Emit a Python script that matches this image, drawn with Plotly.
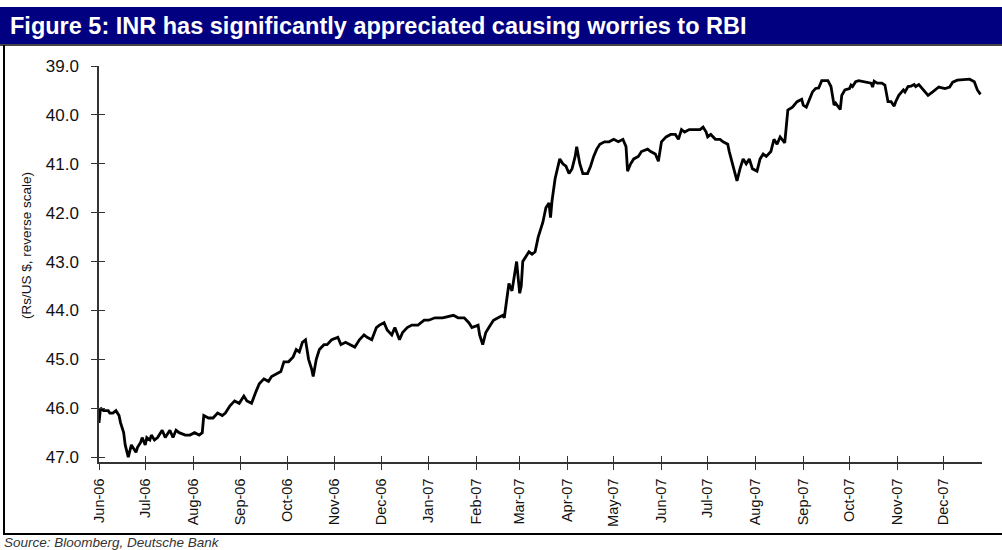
import plotly.graph_objects as go

# ---- data ----
dates = [
    "2006-06-01", "2006-06-02", "2006-06-04", "2006-06-07", "2006-06-08", "2006-06-10", "2006-06-12",
    "2006-06-14", "2006-06-15", "2006-06-17", "2006-06-18", "2006-06-19", "2006-06-20", "2006-06-22",
    "2006-06-23", "2006-06-25", "2006-06-26", "2006-06-28", "2006-06-29",
    "2006-07-01", "2006-07-02", "2006-07-04", "2006-07-05", "2006-07-07", "2006-07-09", "2006-07-11",
    "2006-07-12", "2006-07-14", "2006-07-17", "2006-07-19", "2006-07-21", "2006-07-23", "2006-07-27",
    "2006-07-30",
    "2006-08-02", "2006-08-05", "2006-08-07", "2006-08-08", "2006-08-11", "2006-08-14", "2006-08-17",
    "2006-08-20", "2006-08-22", "2006-08-25", "2006-08-28", "2006-08-31",
    "2006-09-03", "2006-09-05", "2006-09-08", "2006-09-11", "2006-09-13", "2006-09-16", "2006-09-19",
    "2006-09-21", "2006-09-24", "2006-09-27", "2006-09-29",
    "2006-10-02", "2006-10-05", "2006-10-07", "2006-10-09", "2006-10-11", "2006-10-13", "2006-10-15",
    "2006-10-17", "2006-10-18", "2006-10-20", "2006-10-22", "2006-10-25", "2006-10-27", "2006-10-30",
    "2006-11-03", "2006-11-05", "2006-11-08", "2006-11-11", "2006-11-14", "2006-11-17", "2006-11-20",
    "2006-11-22", "2006-11-25", "2006-11-28", "2006-11-30",
    "2006-12-03", "2006-12-05", "2006-12-08", "2006-12-10", "2006-12-13", "2006-12-15", "2006-12-18",
    "2006-12-21", "2006-12-25", "2006-12-29",
    "2007-01-01", "2007-01-05", "2007-01-10", "2007-01-17", "2007-01-20", "2007-01-24", "2007-01-27",
    "2007-01-29",
    "2007-02-02", "2007-02-03", "2007-02-05", "2007-02-07", "2007-02-10", "2007-02-12", "2007-02-15",
    "2007-02-18", "2007-02-19", "2007-02-21", "2007-02-22", "2007-02-24", "2007-02-25", "2007-02-26",
    "2007-02-27",
    "2007-03-01", "2007-03-02", "2007-03-03", "2007-03-05", "2007-03-07", "2007-03-09", "2007-03-11",
    "2007-03-13", "2007-03-16", "2007-03-18", "2007-03-20", "2007-03-21", "2007-03-22", "2007-03-24",
    "2007-03-26", "2007-03-27", "2007-03-29", "2007-03-31",
    "2007-04-02", "2007-04-04", "2007-04-06", "2007-04-07", "2007-04-09", "2007-04-11", "2007-04-14",
    "2007-04-16", "2007-04-18", "2007-04-20", "2007-04-22", "2007-04-25", "2007-04-28",
    "2007-05-01", "2007-05-04", "2007-05-07", "2007-05-09", "2007-05-10", "2007-05-12", "2007-05-14",
    "2007-05-17", "2007-05-19", "2007-05-23", "2007-05-25", "2007-05-28", "2007-05-30",
    "2007-06-01", "2007-06-04", "2007-06-07", "2007-06-10", "2007-06-12", "2007-06-14", "2007-06-16",
    "2007-06-19", "2007-06-22", "2007-06-26", "2007-06-28", "2007-06-30",
    "2007-07-01", "2007-07-03", "2007-07-06", "2007-07-09", "2007-07-11", "2007-07-14", "2007-07-15",
    "2007-07-17", "2007-07-20", "2007-07-22", "2007-07-24", "2007-07-26", "2007-07-28", "2007-07-30",
    "2007-08-02", "2007-08-04", "2007-08-06", "2007-08-08", "2007-08-11", "2007-08-13", "2007-08-15",
    "2007-08-17", "2007-08-20", "2007-08-22", "2007-08-25", "2007-08-28", "2007-08-31",
    "2007-09-01", "2007-09-03", "2007-09-07", "2007-09-09", "2007-09-11", "2007-09-13", "2007-09-15",
    "2007-09-17", "2007-09-19", "2007-09-21", "2007-09-22", "2007-09-23", "2007-09-25", "2007-09-26",
    "2007-09-28",
    "2007-10-01", "2007-10-02", "2007-10-03", "2007-10-05", "2007-10-07", "2007-10-11", "2007-10-13",
    "2007-10-15", "2007-10-16", "2007-10-17", "2007-10-19", "2007-10-22", "2007-10-24", "2007-10-26",
    "2007-10-28", "2007-10-30", "2007-10-31",
    "2007-11-02", "2007-11-05", "2007-11-06", "2007-11-08", "2007-11-10", "2007-11-12", "2007-11-13",
    "2007-11-15", "2007-11-17", "2007-11-20", "2007-11-21", "2007-11-24", "2007-11-28",
    "2007-12-02", "2007-12-05", "2007-12-07", "2007-12-10", "2007-12-18", "2007-12-21", "2007-12-23",
    "2007-12-25",
]
inr_per_usd = [
    46.3, 46.0, 46.05, 46.05, 46.1, 46.1, 46.05,
    46.15, 46.3, 46.5, 46.75, 46.85, 47.0, 46.75,
    46.8, 46.9, 46.8, 46.7, 46.6,
    46.75, 46.6, 46.65, 46.55, 46.65, 46.6, 46.5,
    46.45, 46.6, 46.45, 46.6, 46.45, 46.5, 46.55,
    46.55,
    46.5, 46.55, 46.5, 46.15, 46.2, 46.2, 46.1,
    46.15, 46.1, 45.95, 45.85, 45.9,
    45.75, 45.85, 45.9, 45.65, 45.5, 45.4, 45.45,
    45.35, 45.3, 45.25, 45.05,
    45.05, 44.95, 44.8, 44.85, 44.65, 44.6, 45.0,
    45.2, 45.35, 45.0, 44.8, 44.7, 44.7, 44.6,
    44.55, 44.7, 44.65, 44.7, 44.75, 44.6, 44.5,
    44.55, 44.6, 44.35, 44.3,
    44.25, 44.4, 44.5, 44.35, 44.6, 44.45, 44.35,
    44.3, 44.3, 44.2,
    44.2, 44.15, 44.15, 44.1, 44.15, 44.15, 44.25,
    44.35,
    44.3, 44.5, 44.7, 44.45, 44.3, 44.2, 44.15,
    44.1, 44.15, 43.6, 43.45, 43.6, 43.4, 43.2,
    43.0,
    43.65, 43.5, 43.0, 42.9, 42.8, 42.85, 42.8,
    42.5, 42.2, 41.9, 41.8, 42.1, 41.75, 41.3,
    41.05, 40.9, 41.0, 41.05,
    41.2, 41.1, 40.85, 40.65, 41.0, 41.2, 41.2,
    41.05, 40.85, 40.7, 40.6, 40.55, 40.55,
    40.5, 40.55, 40.5, 40.65, 41.15, 41.0, 40.9,
    40.85, 40.75, 40.7, 40.75, 40.8, 40.95,
    40.55, 40.45, 40.4, 40.4, 40.5, 40.3, 40.35,
    40.3, 40.3, 40.3, 40.25, 40.35,
    40.45, 40.4, 40.5, 40.5, 40.55, 40.6, 40.75,
    41.0, 41.35, 41.1, 40.9, 41.0, 40.9, 41.1,
    41.15, 40.9, 40.8, 40.85, 40.75, 40.5, 40.6,
    40.45, 40.57, 39.9, 39.84, 39.73, 39.68,
    39.8, 39.84, 39.53, 39.46, 39.45, 39.3, 39.3,
    39.3, 39.42, 39.8, 39.76, 39.8, 39.89, 39.6,
    39.49,
    39.46, 39.39, 39.42, 39.32, 39.3, 39.33, 39.35,
    39.35, 39.43, 39.31, 39.35, 39.35, 39.39, 39.73,
    39.73, 39.82, 39.73,
    39.6, 39.49, 39.53, 39.42, 39.41, 39.38, 39.42,
    39.38, 39.46, 39.58, 39.6, 39.53, 39.43,
    39.46, 39.43, 39.33, 39.29, 39.27, 39.32, 39.49,
    39.58,
]
month_ticks = [
    "2006-06-01", "2006-07-01", "2006-08-01", "2006-09-01", "2006-10-01", "2006-11-01", "2006-12-01",
    "2007-01-01", "2007-02-01", "2007-03-01", "2007-04-01", "2007-05-01", "2007-06-01", "2007-07-01",
    "2007-08-01", "2007-09-01", "2007-10-01", "2007-11-01", "2007-12-01",
]
month_labels = [
    "Jun-06", "Jul-06", "Aug-06", "Sep-06", "Oct-06", "Nov-06", "Dec-06",
    "Jan-07", "Feb-07", "Mar-07", "Apr-07", "May-07", "Jun-07", "Jul-07",
    "Aug-07", "Sep-07", "Oct-07", "Nov-07", "Dec-07",
]
y_ticks = [39.0, 40.0, 41.0, 42.0, 43.0, 44.0, 45.0, 46.0, 47.0]
y_labels = ["39.0", "40.0", "41.0", "42.0", "43.0", "44.0", "45.0", "46.0", "47.0"]

title_text = "Figure 5: INR has significantly appreciated causing worries to RBI"
y_title = "(Rs/US $, reverse scale)"
source_text = "Source: Bloomberg, Deutsche Bank"

# ---- layout geometry ----
W, H = 1002, 550
L, R, T, B = 99, 20, 66, 88
PW, PH = W - L - R, H - T - B
FONT = "Liberation Sans, Arial, sans-serif"
AX = "#333333"
X_RANGE = ["2006-06-01", "2007-12-26"]
Y_RANGE = [47.1, 39.0]


def px(x):
    return (x - L) / PW


def py(y):
    return (H - B - y) / PH


fig = go.Figure()
fig.add_trace(go.Scatter(x=dates, y=inr_per_usd, mode="lines",
                         line=dict(color="black", width=2.8), hoverinfo="skip",
                         showlegend=False))
# helper trace so the overlay axes (inner half of the crossing ticks) get drawn
fig.add_trace(go.Scatter(x=dates[:1], y=inr_per_usd[:1], mode="markers",
                         marker=dict(opacity=0), xaxis="x2", yaxis="y2",
                         hoverinfo="skip", showlegend=False))

common_x = dict(type="date", range=X_RANGE, tickmode="array", tickvals=month_ticks,
                showgrid=False, zeroline=False)
common_y = dict(range=Y_RANGE, tickmode="array", tickvals=y_ticks,
                showgrid=False, zeroline=False)

fig.update_layout(
    width=W, height=H,
    margin=dict(l=L, r=R, t=T, b=B, pad=0),
    paper_bgcolor="white", plot_bgcolor="white",
    font=dict(family=FONT, color="black"),
    xaxis=dict(**common_x, ticktext=month_labels, tickangle=-90,
               ticks="outside", ticklen=6, tickwidth=1.3, tickcolor=AX,
               showline=True, linecolor=AX, linewidth=1.5,
               tickfont=dict(size=14.5, color="#111"), ticklabelstandoff=3),
    yaxis=dict(**common_y, ticktext=y_labels,
               ticks="outside", ticklen=6, tickwidth=1.3, tickcolor=AX,
               showline=True, linecolor=AX, linewidth=1.5,
               tickfont=dict(size=17, color="#111"), ticklabelstandoff=9),
    xaxis2=dict(**common_x, overlaying="x", anchor="y2", side="bottom",
                ticks="inside", ticklen=6, tickwidth=1.3, tickcolor=AX,
                showline=False, showticklabels=False),
    yaxis2=dict(**common_y, overlaying="y", anchor="x2", side="left",
                ticks="inside", ticklen=6, tickwidth=1.3, tickcolor=AX,
                showline=False, showticklabels=False),
    shapes=[
        # title bar
        dict(type="rect", xref="paper", yref="paper", x0=px(0), x1=px(W), y0=py(44), y1=py(7),
             fillcolor="#000080", line=dict(width=0), layer="below"),
        # line under the title bar
        dict(type="line", xref="paper", yref="paper", x0=px(0), x1=px(W), y0=py(45), y1=py(45),
             line=dict(color="#444444", width=2)),
        # left frame line
        dict(type="line", xref="paper", yref="paper", x0=px(4), x1=px(4), y0=py(45), y1=py(534),
             line=dict(color="black", width=2)),
        # bottom frame line
        dict(type="line", xref="paper", yref="paper", x0=px(3), x1=px(W), y0=py(534), y1=py(534),
             line=dict(color="black", width=2)),
    ],
    annotations=[
        dict(text="<b>" + title_text + "</b>", xref="paper", yref="paper",
             x=px(8), y=py(26), xanchor="left", yanchor="middle", showarrow=False,
             font=dict(family=FONT, size=23.5, color="white")),
        dict(text=y_title, xref="paper", yref="paper", textangle=-90,
             x=px(26), y=py(246), xanchor="center", yanchor="middle", showarrow=False,
             font=dict(family=FONT, size=13.5, color="#111")),
        dict(text="<i>" + source_text + "</i>", xref="paper", yref="paper",
             x=px(2), y=py(542), xanchor="left", yanchor="middle", showarrow=False,
             font=dict(family=FONT, size=13.5, color="#333333")),
    ],
)

fig.write_html("out.html")
